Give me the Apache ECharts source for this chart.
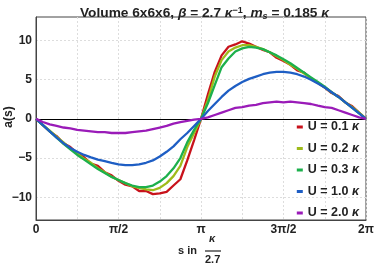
<!DOCTYPE html>
<html><head><meta charset="utf-8">
<script src="https://cdn.jsdelivr.net/npm/echarts@6/dist/echarts.min.js"></script>
<style>html,body{margin:0;padding:0;background:#fff}#c{width:374px;height:265px}</style>
</head><body><div id="c"></div>
<script>
// s in units of pi
const sOverPi = [0,0.0417,0.0833,0.125,0.1667,0.2083,0.25,0.2917,0.3333,0.375,0.4167,0.4583,0.5,0.5417,0.5833,0.625,0.6667,0.7083,0.75,0.7917,0.8333,0.875,0.9167,0.9583,1,1.0417,1.0833,1.125,1.1667,1.2083,1.25,1.2917,1.3333,1.375,1.4167,1.4583,1.5,1.5417,1.5833,1.625,1.6667,1.7083,1.75,1.7917,1.8333,1.875,1.9167,1.9583,2];
const seriesNames = ['U = 0.1 κ','U = 0.2 κ','U = 0.3 κ','U = 1.0 κ','U = 2.0 κ'];
const aU01 = [0,-0.8,-1.6,-2.2,-3.1,-3.6,-4.4,-4.9,-5.7,-6.0,-6.8,-7.2,-7.9,-8.4,-8.6,-9.2,-9.2,-9.6,-9.5,-9.3,-8.5,-7.7,-5.3,-2.7,0,3.1,6.0,8.1,9.2,9.5,9.9,9.6,9.2,8.8,8.5,7.8,7.4,6.9,6.2,5.9,5.1,4.6,4.0,3.3,2.9,2.1,1.6,0.8,0];
const aU02 = [0,-0.8,-1.5,-2.3,-3.0,-3.8,-4.4,-5.1,-5.6,-6.3,-6.8,-7.4,-7.8,-8.2,-8.6,-8.8,-9.0,-9.1,-8.8,-8.2,-7.3,-6.0,-3.6,-1.8,0,2.4,5.4,7.5,8.6,9.1,9.4,9.4,9.2,8.9,8.5,8.0,7.5,6.9,6.4,5.8,5.2,4.6,4.0,3.4,2.8,2.1,1.5,0.8,0];
const aU03 = [0,-0.8,-1.6,-2.4,-3.2,-3.9,-4.6,-5.2,-5.8,-6.4,-6.9,-7.4,-7.8,-8.2,-8.5,-8.7,-8.7,-8.5,-8.0,-7.3,-6.3,-5.0,-3.0,-1.4,0,2.0,4.3,6.6,7.7,8.6,9.0,9.2,9.1,8.9,8.5,8.1,7.6,7.1,6.5,5.9,5.3,4.7,4.1,3.4,2.8,2.1,1.4,0.7,0];
const aU10 = [0,-0.8,-1.6,-2.4,-3.1,-3.7,-4.2,-4.6,-4.9,-5.2,-5.4,-5.6,-5.8,-5.9,-5.9,-5.8,-5.6,-5.3,-4.8,-4.2,-3.5,-2.6,-1.8,-0.9,0,1.0,1.9,2.8,3.6,4.2,4.7,5.1,5.4,5.7,5.9,6.0,6.0,5.9,5.7,5.4,5.0,4.5,4.0,3.4,2.8,2.1,1.4,0.7,0];
const aU20 = [0,-0.4,-0.7,-0.9,-1.1,-1.2,-1.4,-1.5,-1.6,-1.7,-1.7,-1.8,-1.8,-1.8,-1.7,-1.6,-1.5,-1.3,-1.1,-0.9,-0.6,-0.4,-0.25,-0.1,0,0.2,0.5,0.8,1.1,1.4,1.5,1.7,1.8,2.0,2.1,2.2,2.1,2.2,2.1,2.0,1.9,1.7,1.5,1.4,1.1,0.8,0.5,0.2,0];
const xTickValues = [0,0.5,1,1.5,2];
const xTickLabels = ['0','π/2','π','3π/2','2π'];
const yTickValues = [-10,-5,0,5,10];
const colors = ['#c8121b','#9ebb1a','#1cb04c','#1e5ec4','#9a1bb8'];
const allA = [aU01,aU02,aU03,aU10,aU20];

const FONT = '"Liberation Sans", Arial, sans-serif';
const chart = echarts.init(document.getElementById('c'), null, {renderer:'canvas'});
const series = seriesNames.map((n,i)=>({
  name:n, type:'line', showSymbol:false, symbol:'rect',
  lineStyle:{width:2.3,color:colors[i]}, itemStyle:{color:colors[i]},
  data: sOverPi.map((x,j)=>[x, allA[i][j]]), z: 3+i, animation:false
}));
series.push({type:'line', data:[], markLine:{silent:true, symbol:'none', label:{show:false},
  lineStyle:{color:'#000', type:'solid', width:1.2}, data:[{yAxis:0}]}, animation:false});
chart.setOption({
  animation:false,
  color: colors,
  title:{
    text:'Volume 6x6x6, {i|β} = 2.7 {i|κ}{sup|−1}, {i|m}{sub|s} = 0.185 {i|κ}',
    left:75, top:1,
    textStyle:{fontFamily:FONT, fontSize:13.7, fontWeight:'bold', color:'#222',
      rich:{
        i:{fontFamily:FONT, fontSize:13.7, fontWeight:'bold', fontStyle:'italic', color:'#222'},
        sup:{fontFamily:FONT, fontSize:9, fontWeight:'bold', color:'#222', verticalAlign:'top', padding:[0,0,6,0]},
        sub:{fontFamily:FONT, fontSize:9, fontStyle:'italic', fontWeight:'bold', color:'#222', verticalAlign:'bottom', padding:[5,0,0,0]}
      }}
  },
  grid:{left:36, right:8, top:17, bottom:45, show:true, borderColor:'#444', borderWidth:1,
    backgroundColor:'transparent', containLabel:false, outerBoundsMode:'none'},
  legend:{
    orient:'vertical', right:10, top:115, itemWidth:6, itemHeight:3, itemGap:7.5,
    icon:'rect', data: seriesNames,
    formatter: n => n.replace('κ','{k|κ}'),
    textStyle:{fontFamily:FONT, fontSize:12.5, fontWeight:'bold', color:'#222', lineHeight:14,
      rich:{k:{fontFamily:FONT, fontSize:12.5, fontWeight:'bold', fontStyle:'italic', color:'#222', lineHeight:14}}}
  },
  xAxis:{
    type:'value', min:0, max:2, interval:0.25,
    axisLine:{onZero:false, lineStyle:{color:'#444', width:1}},
    axisTick:{show:false},
    splitLine:{show:true, lineStyle:{color:'#ddd', type:[2,2], width:1}},
    axisLabel:{fontFamily:FONT, fontSize:12, fontWeight:'bold', color:'#222', margin:4,
      formatter: v => { const k = xTickValues.findIndex(t=>Math.abs(t-v)<1e-6); return k>=0 ? xTickLabels[k] : ''; },
      showMinLabel:true, showMaxLabel:true}
  },
  yAxis:{
    type:'value', min:-12.9, max:13,
    axisLine:{lineStyle:{color:'#444', width:1}},
    axisTick:{show:false, customValues:yTickValues},
    splitLine:{show:true, lineStyle:{color:'#ddd', type:[2,2], width:1}},
    axisLabel:{customValues:yTickValues, fontFamily:FONT, fontSize:12, fontWeight:'bold', color:'#222', margin:4,
      formatter: v => v<0 ? '−'+Math.abs(v) : String(v)}
  },
  graphic:[
    {type:'text', x:9, y:117, rotation:Math.PI/2,
      style:{text:'a(s)', fontFamily:FONT, fontSize:12, fontWeight:'bold', fill:'#222', align:'center', verticalAlign:'middle'}},
    {type:'text', left:178, top:245, style:{text:'s in', fontFamily:FONT, fontSize:11, fontWeight:'bold', fill:'#222'}},
    {type:'text', left:209, top:233, style:{text:'κ', fontFamily:FONT, fontSize:11, fontWeight:'bold', fontStyle:'italic', fill:'#222'}},
    {type:'line', shape:{x1:205, y1:251, x2:221, y2:251}, style:{stroke:'#222', lineWidth:1.2}},
    {type:'text', left:205, top:254, style:{text:'2.7', fontFamily:FONT, fontSize:11, fontWeight:'bold', fill:'#222'}}
  ],
  series: series
});
</script></body></html>
